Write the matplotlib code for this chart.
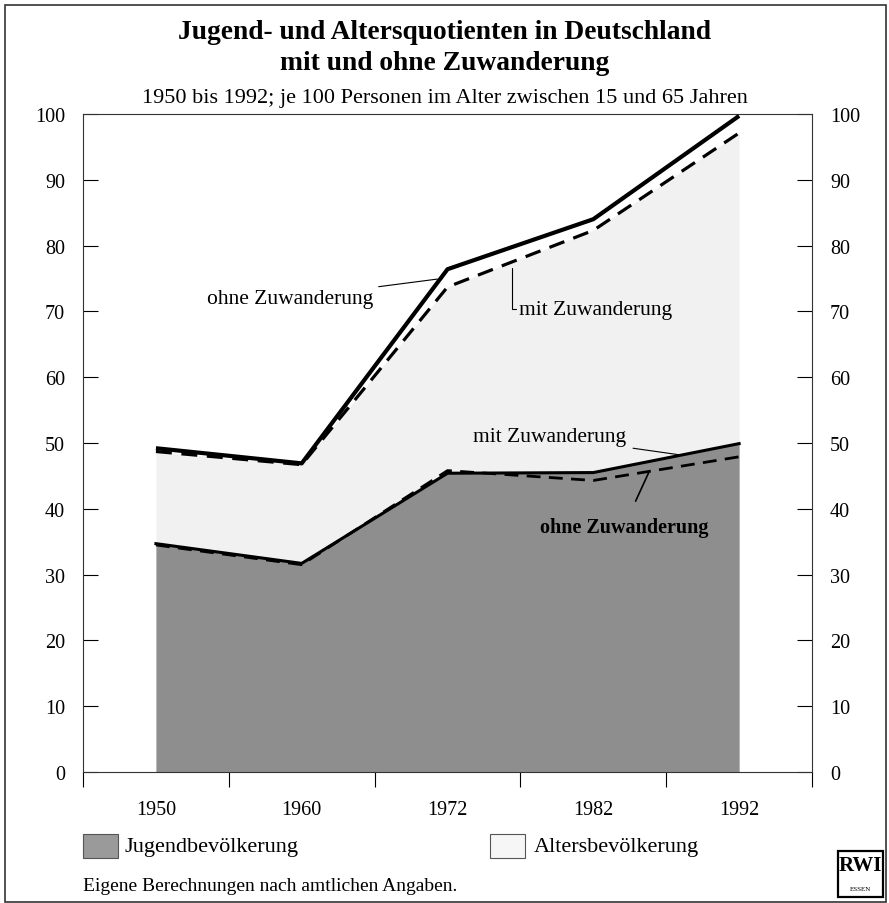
import matplotlib
matplotlib.use("Agg")
from matplotlib import pyplot as plt
from matplotlib.patches import Rectangle

# data
jahre = ["1950", "1960", "1972", "1982", "1992"]
# Jugendquotient
jung_mit = [34.7, 31.7, 45.4, 45.5, 49.9]
jung_ohne = [34.5, 31.5, 45.8, 44.3, 47.9]
# Jugend- plus Altersquotient
gesamt_ohne = [49.2, 46.9, 76.4, 84.0, 99.7]
gesamt_mit = [48.7, 46.7, 73.7, 82.3, 97.1]

plt.rcParams['font.family'] = ['Liberation Serif', 'DejaVu Serif']

fig = plt.figure(figsize=(8.89, 9.04), dpi=100)
ax = fig.add_axes([0.0934, 0.1449, 0.82, 0.728])

x = list(range(len(jahre)))
# areas
ax.fill_between(x, 0, gesamt_mit, color='#f1f1f1', lw=0, zorder=1)
ax.fill_between(x, 0, jung_mit, color='#8e8e8e', lw=0, zorder=2)
# lines
ax.plot(x, gesamt_ohne, color='black', lw=3, solid_capstyle='butt', zorder=4)
ax.plot(x, gesamt_mit, color='black', lw=2.3, ls=(0, (5, 3)), zorder=4)
ax.plot(x, jung_mit, color='black', lw=2.2, zorder=4)
ax.plot(x, jung_ohne, color='black', lw=2, ls=(0, (5, 3)), zorder=3)

ax.set_xlim(-0.5, 4.5)
ax.set_ylim(0, 100)

# y axis left + right
ax.set_yticks(range(0, 101, 10))
ax.tick_params(axis='y', direction='in', length=11, width=0.8, labelsize=14.5,
               left=True, right=True, labelleft=True, labelright=True, pad=13)
# x axis: ticks between categories, labels centred
ax.set_xticks([i - 0.5 for i in range(6)])
ax.set_xticklabels([])
ax.set_xticks(x, minor=True)
ax.set_xticklabels(jahre, minor=True, fontsize=14.5)
ax.tick_params(axis='x', which='major', direction='out', length=11, width=0.8)
ax.tick_params(axis='x', which='minor', length=0, pad=20)
for s in ax.spines.values():
    s.set_linewidth(0.8)
    s.set_color('#333333')

# annotations
ax.annotate("ohne Zuwanderung", xy=(1.93, 74.9), xytext=(0.92, 72.0),
            fontsize=15.5, ha='center', va='center',
            arrowprops=dict(arrowstyle='-', lw=0.8, color='black',
                            shrinkA=2, shrinkB=0))
ax.annotate("mit Zuwanderung", xy=(2.44, 76.6), xytext=(2.49, 70.3),
            fontsize=15.5, ha='left', va='center',
            arrowprops=dict(arrowstyle='-', lw=0.8, color='black',
                            shrinkA=0, shrinkB=0,
                            connectionstyle="angle,angleA=0,angleB=90,rad=0"))
ax.annotate("mit Zuwanderung", xy=(3.59, 48.2), xytext=(2.70, 51.0),
            fontsize=15.5, ha='center', va='center',
            arrowprops=dict(arrowstyle='-', lw=0.8, color='black',
                            shrinkA=3, shrinkB=0))
ax.annotate("ohne Zuwanderung", xy=(3.38, 45.5), xytext=(3.21, 37.3),
            fontsize=14.5, ha='center', va='center', fontweight='bold',
            arrowprops=dict(arrowstyle='-', lw=1.2, color='black',
                            shrinkA=10, shrinkB=0))

# titles
fig.text(0.5, 0.964, "Jugend- und Altersquotienten in Deutschland",
         ha='center', va='center', fontsize=19.8, fontweight='bold')
fig.text(0.5, 0.930, "mit und ohne Zuwanderung",
         ha='center', va='center', fontsize=19.8, fontweight='bold')
fig.text(0.5, 0.891, "1950 bis 1992; je 100 Personen im Alter zwischen 15 und 65 Jahren",
         ha='center', va='center', fontsize=16)

# legend
fig.patches.append(Rectangle((83 / 889, 1 - 859 / 904), 35 / 889, 24 / 904,
                             transform=fig.transFigure, facecolor='#9a9a9a',
                             edgecolor='#555555', lw=0.8))
fig.text(124 / 889, 1 - 848 / 904, "Jugendbevölkerung", ha='left', va='center', fontsize=16)
fig.patches.append(Rectangle((490 / 889, 1 - 859 / 904), 35 / 889, 24 / 904,
                             transform=fig.transFigure, facecolor='#f6f6f6',
                             edgecolor='#555555', lw=0.8))
fig.text(534 / 889, 1 - 848 / 904, "Altersbevölkerung", ha='left', va='center', fontsize=16)

fig.text(83 / 889, 1 - 887 / 904, "Eigene Berechnungen nach amtlichen Angaben.",
         ha='left', va='center', fontsize=14)

# RWI logo
fig.patches.append(Rectangle((838 / 889, 1 - 898 / 904), 45 / 889, 46 / 904,
                             transform=fig.transFigure, facecolor='white',
                             edgecolor='black', lw=1.6))
fig.text(860.5 / 889, 1 - 866 / 904, "RWI", ha='center', va='center',
         fontsize=15, fontweight='bold')
fig.text(860.5 / 889, 1 - 890 / 904, "ESSEN", ha='center', va='center', fontsize=5)

# frame
fig.patches.append(Rectangle((5 / 889, 1 / 904), 881 / 889, 897 / 904,
                             transform=fig.transFigure, fill=False,
                             edgecolor='#333333', lw=1.2))

fig.savefig("out.png", dpi=100)
